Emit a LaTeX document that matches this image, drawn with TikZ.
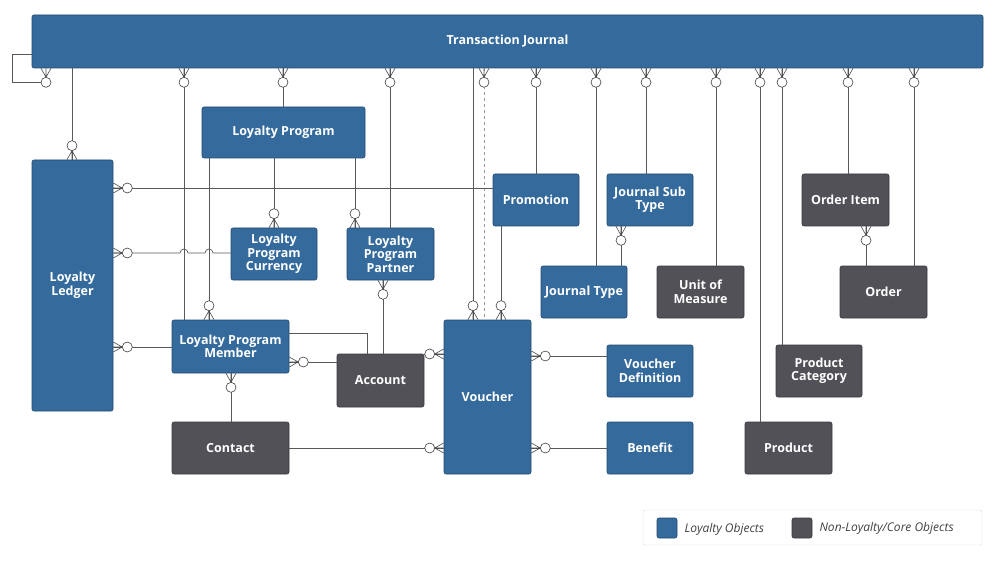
\documentclass[tikz,border=0pt]{standalone}
\usepackage{fontspec}
\setmainfont{Open Sans}
\begin{document}
\begin{tikzpicture}[x=1pt,y=-1pt,
  ent/.style={draw=#1!70!black,fill=#1,rounded corners=2pt,text=white,align=center,
    font=\fontsize{12.5}{13.5}\selectfont\bfseries,inner sep=0pt,line width=0.6pt},
  ln/.style={draw=black!65,line width=0.7pt},
  cf/.pic={\draw[black!70,line width=0.6pt] (-5,0) -- (0,9) -- (5,0) (0,0) -- (0,9);
           \draw[black!75,fill=white,line width=0.6pt] (0,14) circle[radius=5];}]
\definecolor{lblue}{HTML}{346A9C}
\definecolor{lgray}{HTML}{535158}
\useasboundingbox (0,0) rectangle (1000,561);
\newcommand\bx[6]{\node[ent=#6,minimum width=#4-#2,minimum height=#5-#3] (#1) at ({(#2+#4)/2},{(#3+#5)/2}) {};}
\bx{tj}{32}{15}{983}{68}{lblue}
\bx{lp}{202}{107}{365}{158}{lblue}
\bx{ll}{32}{160}{113}{411}{lblue}
\bx{lpc}{231}{228}{317}{280}{lblue}
\bx{lpp}{347}{228}{434}{280}{lblue}
\bx{pro}{493}{174}{579}{226}{lblue}
\bx{jst}{607}{174}{693}{226}{lblue}
\bx{jt}{541}{266}{627}{318}{lblue}
\bx{uom}{657}{266}{744}{318}{lgray}
\bx{oi}{802}{174}{889}{226}{lgray}
\bx{ord}{840}{266}{927}{318}{lgray}
\bx{lpm}{172}{320}{289}{373}{lblue}
\bx{acc}{337}{354}{424}{407}{lgray}
\bx{vou}{444}{320}{531}{474}{lblue}
\bx{vd}{607}{345}{693}{397}{lblue}
\bx{ben}{607}{422}{693}{474}{lblue}
\bx{pc}{776}{345}{862}{397}{lgray}
\bx{prd}{745}{422}{832}{474}{lgray}
\bx{con}{172}{422}{289}{474}{lgray}
\tikzset{lbl/.style={text=white,align=center,font=\fontsize{12.5}{13.5}\selectfont\bfseries}}
\node[lbl] at (tj) {Transaction Journal};
\node[lbl] at (lp) {Loyalty Program};
\node[lbl] at (ll) {Loyalty\\Ledger};
\node[lbl] at (lpc) {Loyalty\\Program\\Currency};
\node[lbl] at (lpp) {Loyalty\\Program\\Partner};
\node[lbl] at (pro) {Promotion};
\node[lbl] at (jst) {Journal Sub\\Type};
\node[lbl] at (jt) {Journal Type};
\node[lbl] at (uom) {Unit of\\Measure};
\node[lbl] at (oi) {Order Item};
\node[lbl] at (ord) {Order};
\node[lbl] at (lpm) {Loyalty Program\\Member};
\node[lbl] at (acc) {Account};
\node[lbl] at (vou) {Voucher};
\node[lbl] at (vd) {Voucher\\Definition};
\node[lbl] at (ben) {Benefit};
\node[lbl] at (pc) {Product\\Category};
\node[lbl] at (prd) {Product};
\node[lbl] at (con) {Contact};
% connectors
\draw[ln] (tj.west |- 0,54) -- (12,54) -- (12,82) -- (41,82);
\foreach \x/\n in {72/ll,184/lpm,283/lp,390/lpp,473/vou,536/pro,596/jt,646/jst,716/uom,760/prd,782/pc,848/oi,914/ord}
  \draw[ln] (tj.south -| \x,0) -- (\n.north -| \x,0);
\draw[ln,dashed,draw=black!40] (tj.south -| 484,0) -- (vou.north -| 484,0);
\draw[ln] (lp.south -| 209,0) -- (lpm.north -| 209,0);
\draw[ln] (lp.south -| 274,0) -- (lpc.north -| 274,0);
\draw[ln] (lp.south -| 355,0) -- (lpp.north -| 355,0);
\draw[ln] (lpp.south -| 383,0) -- (acc.north -| 383,0);
\draw[ln] (pro.south -| 501,0) -- (vou.north -| 501,0);
\draw[ln] (jst.south -| 621,0) -- (jt.north -| 621,0);
\draw[ln] (oi.south -| 866,0) -- (ord.north -| 866,0);
\draw[ln] (lpm.south -| 231,0) -- (con.north -| 231,0);
\draw[ln] (ll.east |- 0,188) -- (pro.west |- 0,188);
\draw[ln] (ll.east |- 0,253) -- (180,253) arc[start angle=180,end angle=360,radius=4] -- (205,253) arc[start angle=180,end angle=360,radius=4] -- (lpc.west |- 0,253);
\draw[ln] (ll.east |- 0,347) -- (lpm.west |- 0,347);
\draw[ln] (lpm.east |- 0,333) -- (367,333) -- (acc.north -| 367,0);
\draw[ln] (lpm.east |- 0,362) -- (acc.west |- 0,362);
\draw[ln] (acc.east |- 0,354) -- (vou.west |- 0,354);
\draw[ln] (con.east |- 0,448) -- (vou.west |- 0,448);
\draw[ln] (vou.east |- 0,356) -- (vd.west |- 0,356);
\draw[ln] (vou.east |- 0,448) -- (ben.west |- 0,448);
% crow's feet
\foreach \x in {46,184,283,390,484,536,596,646,716,760,782,848,914}
  \pic at (tj.south -| \x,0) {cf};
\foreach \n/\x in {ll/72,lpm/209,lpc/274,lpp/355,vou/473,vou/501}
  \pic[rotate=180] at (\n.north -| \x,0) {cf};
\pic at (lpp.south -| 383,0) {cf};
\pic at (jst.south -| 621,0) {cf};
\pic at (oi.south -| 866,0) {cf};
\pic at (lpm.south -| 231,0) {cf};
\foreach \n/\y in {ll/188,ll/253,ll/347,lpm/362,vou/356,vou/448}
  \pic[rotate=90] at (\n.east |- 0,\y) {cf};
\foreach \y in {354,448}
  \pic[rotate=-90] at (vou.west |- 0,\y) {cf};
% legend
\node[draw=black!15,rounded corners=2pt,minimum width=339,minimum height=35] (leg) at (812.5,527.5) {};
\node[ent=lblue,minimum width=20,minimum height=20] (sw1) at (667,528) {};
\node[ent=lgray,minimum width=20,minimum height=20] (sw2) at (802,528) {};
\node[anchor=west,font=\fontsize{12}{13}\selectfont\itshape,text=black!75] at (681,529) {Loyalty Objects};
\node[anchor=west,font=\fontsize{12}{13}\selectfont\itshape,text=black!75] at (816,528) {Non-Loyalty/Core Objects};
\end{tikzpicture}
\end{document}
